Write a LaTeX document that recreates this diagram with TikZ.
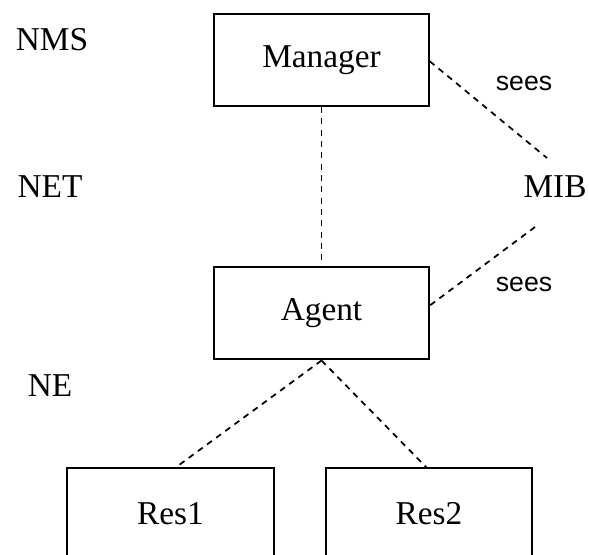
\documentclass[tikz,border=0pt]{standalone}
\usepackage{fontspec}
\setmainfont{Liberation Serif}
\newfontfamily\seesfont{Liberation Sans}
\usepackage{tikz}

\tikzset{
  box/.style={draw, line width=1.5pt, minimum width=161pt, minimum height=69pt, inner sep=0pt},
  resbox/.style={draw, line width=1.5pt, minimum width=155pt, minimum height=69pt, inner sep=0pt},
  link/.style={line width=1.3pt, dash pattern=on 4.5pt off 4pt},
  layer/.style={font=\fontsize{25}{30}\selectfont},
  seelabel/.style={font=\seesfont\fontsize{20}{24}\selectfont}
}

\begin{document}
\begin{tikzpicture}[x=0.75pt, y=-0.75pt, font=\fontsize{25}{30}\selectfont]
            \useasboundingbox (0,0) rectangle (589,555);
            \clip (0,0) rectangle (589,555);

            % Drawing the boxes
            \node[box] (manager) at (321.5,60) {Manager};
            \node[box] (agent) at (321.5,313.5) {\raisebox{-4pt}{Agent}};
            \node[resbox] (res1) at (170.5,514) {Res1};
            \node[resbox] (res2) at (429,514) {Res2};

            % Layer names
            \node[layer] (nms) at (52,40) {NMS};
            \node[layer] (net) at (50,187) {NET};
            \node[layer] (ne) at (50,386) {NE};

            % MIB and its labels
            \node[layer] (mib) at (555,187) {MIB};
            \coordinate (mibtop) at (547,158);
            \coordinate (mibbot) at (535,227);
            \node[seelabel] (sees1) at (524,83) {sees};
            \node[seelabel] (sees2) at (524,284) {sees};

            % Drawing the dashed links
            \draw[link] (manager.south) -- (agent.north);
            \draw[link] ([yshift=-1pt]manager.east) -- (mibtop);
            \draw[link] (mibbot) -- ([yshift=6pt]agent.east);
            \draw[link] (agent.south) -- (175,468);
            \draw[link] (agent.south) -- (427,468);
        \end{tikzpicture}
\end{document}
